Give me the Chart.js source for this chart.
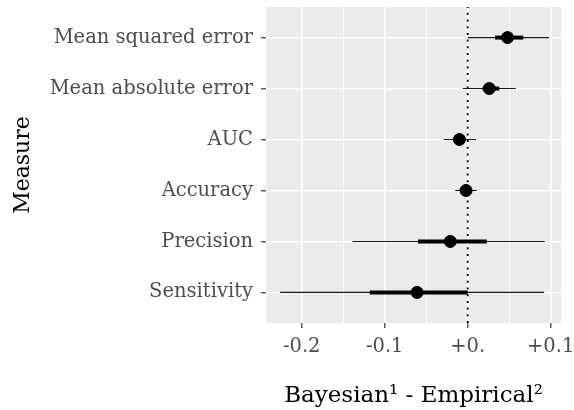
<!DOCTYPE html>
<html>
<head>
<meta charset="utf-8">
<script src="https://cdn.jsdelivr.net/npm/chart.js@4"></script>
<style>
  html, body { margin: 0; padding: 0; background: #fff; }
  #wrap { width: 574px; height: 410px; }
</style>
</head>
<body>
<div id="wrap"><canvas id="myChart" width="574" height="410"></canvas></div>
<script>
// values
var measures = ['Mean squared error', 'Mean absolute error', 'AUC', 'Accuracy', 'Precision', 'Sensitivity'];
var estimate = [0.048, 0.026, -0.010, -0.002, -0.021, -0.061];
var innerLo = [0.033, 0.018, -0.015, -0.009, -0.060, -0.118];
var innerHi = [0.067, 0.038, -0.005, 0.004, 0.023, 0.000];
var outerLo = [0.000, -0.006, -0.029, -0.015, -0.139, -0.226];
var outerHi = [0.098, 0.058, 0.010, 0.011, 0.093, 0.092];
var xMajor = [-0.2, -0.1, 0, 0.1];
var xMajorLabels = ['-0.2', '-0.1', '+0.', '+0.1'];
var xMinor = [-0.15, -0.05, 0.05];

var serif = '"DejaVu Serif", "Liberation Serif", serif';

function rowPos(i) { return measures.length - i; }
function isMajor(v) {
  return xMajor.some(function (m) { return Math.abs(m - v) < 1e-9; });
}

var datasets = [];
// zero reference line
datasets.push({
  type: 'line',
  data: [{ x: 0, y: 0.4 }, { x: 0, y: 6.6 }],
  borderColor: '#000', borderWidth: 1.8, borderDash: [2, 4.7],
  pointRadius: 0, order: 5
});
measures.forEach(function (m, i) {
  datasets.push({
    type: 'line',
    data: [{ x: outerLo[i], y: rowPos(i) }, { x: outerHi[i], y: rowPos(i) }],
    borderColor: '#1a1a1a', borderWidth: 1.1,
    pointRadius: 0, order: 4
  });
  datasets.push({
    type: 'line',
    data: [{ x: innerLo[i], y: rowPos(i) }, { x: innerHi[i], y: rowPos(i) }],
    borderColor: '#000', borderWidth: 4, borderCapStyle: 'butt',
    pointRadius: 0, order: 3
  });
});
datasets.push({
  type: 'scatter',
  data: measures.map(function (m, i) { return { x: estimate[i], y: rowPos(i) }; }),
  backgroundColor: '#000', borderColor: '#000',
  pointRadius: 6, pointHoverRadius: 6, order: 1
});

var panelBg = {
  id: 'panelBg',
  beforeDraw: function (chart) {
    var a = chart.chartArea, c = chart.ctx;
    c.save();
    c.fillStyle = '#ebebeb';
    c.fillRect(a.left, a.top, a.right - a.left, a.bottom - a.top);
    c.restore();
  }
};

var ctx = document.getElementById('myChart');
var myChart = new Chart(ctx, {
  type: 'scatter',
  data: { datasets: datasets },
  options: {
    responsive: false,
    animation: false,
    layout: { padding: { top: 7, right: 13, left: 0, bottom: 0 } },
    plugins: { legend: { display: false }, tooltip: { enabled: false } },
    scales: {
      x: {
        type: 'linear', min: -0.243, max: 0.1124,
        afterBuildTicks: function (s) {
          s.ticks = xMajor.concat(xMinor).sort(function (a, b) { return a - b; })
            .map(function (v) { return { value: v }; });
        },
        afterFit: function (s) { s.height = 87; s.paddingLeft = 0; s.paddingRight = 0; },
        border: { display: false },
        grid: {
          color: '#fff',
          lineWidth: function (c) { return isMajor(c.tick.value) ? 1.6 : 0.8; },
          tickColor: function (c) { return isMajor(c.tick.value) ? '#333' : 'rgba(0,0,0,0)'; },
          tickLength: 5, tickWidth: 1.2
        },
        ticks: {
          autoSkip: false, maxRotation: 0, padding: 7, color: '#4d4d4d',
          font: { family: serif, size: 19.5 },
          callback: function (v) {
            var k = xMajor.findIndex(function (m) { return Math.abs(m - v) < 1e-9; });
            return k >= 0 ? xMajorLabels[k] : '';
          }
        },
        title: {
          display: true, text: 'Bayesian\u00b9 - Empirical\u00b2', color: '#000',
          font: { family: serif, size: 23 }, padding: { top: 0, bottom: 0 }
        }
      },
      y: {
        type: 'linear', min: 0.4, max: 6.6,
        afterBuildTicks: function (s) {
          s.ticks = measures.map(function (m, i) { return { value: rowPos(i) }; });
        },
        afterFit: function (s) { s.width = 266; s.paddingTop = 0; s.paddingBottom = 0; },
        border: { display: false },
        grid: { color: '#fff', lineWidth: 1.6, tickColor: '#333', tickLength: 5, tickWidth: 1.2 },
        ticks: {
          autoSkip: false, padding: 8, color: '#4d4d4d',
          font: { family: serif, size: 19.5 },
          callback: function (v) { return measures[measures.length - v]; }
        },
        title: {
          display: true, text: 'Measure', color: '#000',
          font: { family: serif, size: 22 }, padding: { top: 10, bottom: 0 }
        }
      }
    }
  },
  plugins: [panelBg]
});
</script>
</body>
</html>
